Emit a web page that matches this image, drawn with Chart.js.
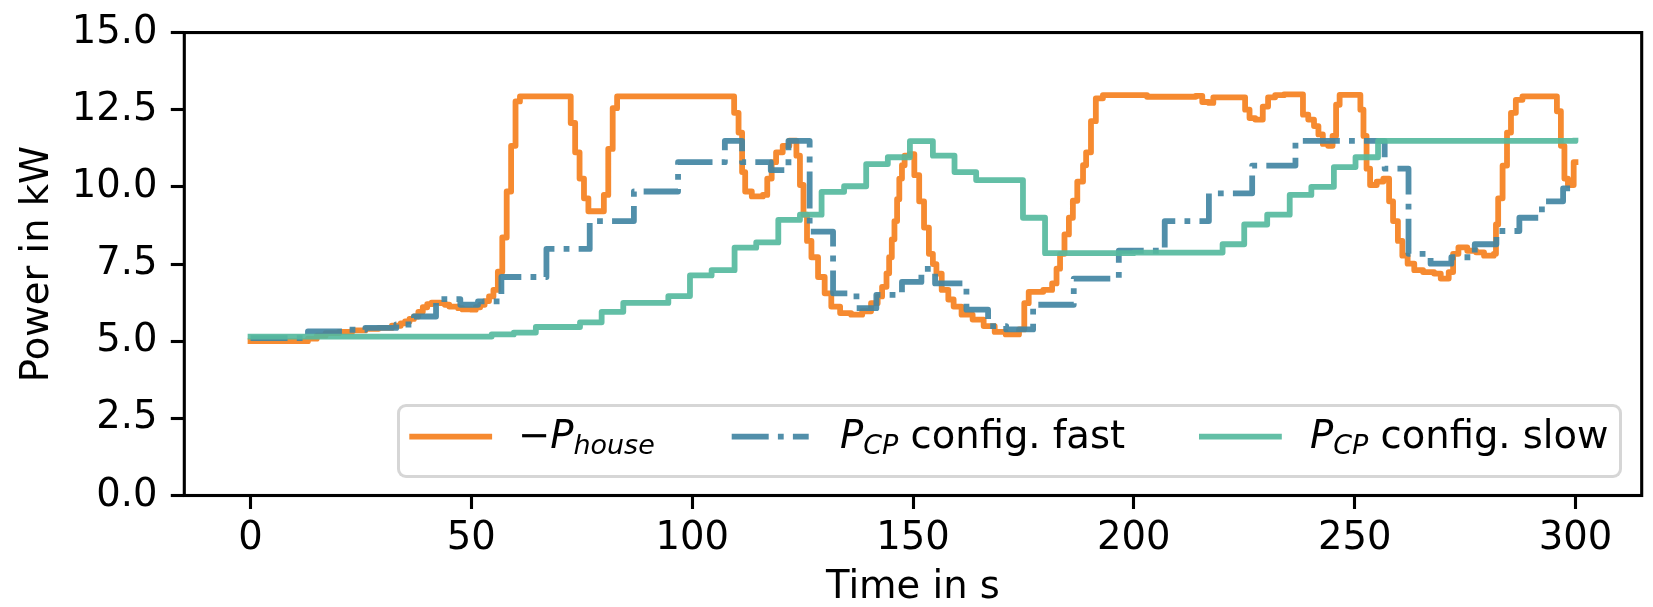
<!DOCTYPE html>
<html>
<head>
<meta charset="utf-8">
<script src="https://cdn.jsdelivr.net/npm/chart.js@4.4.1/dist/chart.umd.min.js"></script>
<style>
  html, body { margin: 0; padding: 0; background: #fff; }
  #wrap { position: relative; width: 1653px; height: 607px; overflow: hidden; }
  #c { position: absolute; left: 0; top: 0; }
  #legend { position: absolute; left: 0; top: 0; width: 1653px; height: 607px; pointer-events: none; }
  #legbox { position: absolute; left: 396.5px; top: 403.5px; width: 1225.9px; height: 74.8px; box-sizing: border-box;
            border: 3.1px solid rgba(204,204,204,0.8); border-radius: 9px; background: rgba(255,255,255,0.8); }
  .lt { position: absolute; top: 415.7px; font-family: 'DejaVu Sans', sans-serif; font-size: 38.5px; line-height: 38.5px;
        color: #000; white-space: nowrap; }
  .lt i { font-style: italic; }
  .lt sub { font-size: 0.7em; vertical-align: -6px; line-height: 0; font-style: italic; }
  #legsvg { position: absolute; left: 0; top: 0; }
</style>
</head>
<body>
<div id="wrap">
  <canvas id="c" width="1653" height="607"></canvas>
  <div id="legend">
    <div id="legbox"></div>
    <svg id="legsvg" width="1653" height="607">
      <line id="lg0" x1="412.2" y1="436.7" x2="489.2" y2="436.7" stroke-width="5.8" stroke-linecap="square"/>
      <line id="lg1" x1="731.7" y1="436.7" x2="808.7" y2="436.7" stroke-width="5.8" stroke-linecap="butt" stroke-dasharray="37 9.2 5.8 9.2"/>
      <line id="lg2" x1="1201.9" y1="436.7" x2="1278.9" y2="436.7" stroke-width="5.8" stroke-linecap="square"/>
    </svg>
    <div class="lt" style="left:518px">−<i>P</i><sub>house</sub></div>
    <div class="lt" style="left:840px"><i>P</i><sub>CP</sub> config. fast</div>
    <div class="lt" style="left:1310px"><i>P</i><sub>CP</sub> config. slow</div>
  </div>
</div>
<script>
// ---- data (time in s, power in kW) ----
const houseT = [0,12,13,15,17,20,23,26,29,32,34,35,36,37,38,39,40,41,43,44,45,47,48,50,51,52,53,54,55,56,57,58,59,60,61,
  72.5,73.5,74.5,75.5,76.5,80,81,82,83,
  109.5,110.5,111.3,112,113.5,116,117,118,119,120.5,122,123.6,124.4,125.2,126,127,128.5,130,131.5,133.5,136,138.5,140.5,
  142,143,144,144.6,145.2,145.8,146.4,146.9,147.5,148.1,149.2,150.3,151.4,152.5,153.6,154.5,155.3,156.5,158,159.2,161,
  163.5,166,168.5,171,174,175.2,176.2,179.5,181.5,182.5,183.3,184.3,185.3,186.2,187.2,188.5,189.2,190.3,191.4,193,
  203,214,215.5,217,218,225.2,226.2,227.5,229.2,230.4,232,234,238.3,239.5,240.8,241.8,242.8,244,245,245.8,246.6,
  251.3,252,252.7,253.5,255,256.5,257.8,258.7,259.8,260.8,262,263.5,265.5,268,269.5,271.3,272.3,273.5,275.5,277.5,
  279.3,281.5,282,282.5,283.5,284.5,285.4,286.5,288,295.8,296.7,297.5,298.3,299.6,300];
const houseV = [5.00,5.00,5.08,5.18,5.26,5.30,5.35,5.40,5.43,5.50,5.58,5.64,5.72,5.80,5.95,6.10,6.20,6.25,6.23,6.18,6.12,6.07,6.03,6.02,6.10,6.18,6.30,6.45,6.66,7.25,8.36,9.85,11.33,12.77,12.93,
  12.07,11.12,10.27,9.63,9.21,9.74,11.23,12.55,12.93,
  12.40,11.76,10.48,9.85,9.69,9.74,10.27,10.80,11.12,11.33,11.50,11.01,10.06,9.10,8.25,7.72,7.08,6.55,6.12,5.91,5.86,5.97,6.23,
  6.45,6.76,7.20,7.72,8.30,8.89,9.60,10.27,10.70,11.01,11.06,10.38,9.53,8.68,7.83,7.50,7.19,6.66,6.35,6.12,5.86,
  5.70,5.49,5.30,5.22,5.38,6.23,6.60,6.66,6.87,7.35,7.83,8.46,9.00,9.55,10.17,10.70,11.12,12.13,12.87,12.97,
  12.92,12.95,12.75,12.72,12.90,12.50,12.23,12.18,12.60,12.90,12.97,13.00,12.34,12.18,11.97,11.70,11.39,11.33,11.65,12.66,12.98,
  12.50,11.65,10.59,10.06,10.17,10.27,9.53,8.89,8.25,7.77,7.51,7.30,7.24,7.19,7.03,7.24,7.83,8.04,7.93,7.88,
  7.77,7.83,8.78,9.63,10.69,11.76,12.40,12.82,12.93,12.45,11.33,10.27,10.06,10.80,10.80];

const fastT = [0,13,21.5,26,33,37,42,47.5,51.5,56.8,67,76.8,86.8,96.8,107.4,111.3,117.8,121.8,126.6,131.9,137.2,141.7,
  147.5,151.9,155,162.1,167,171.1,177.2,186.4,196.6,207,217,226.8,236.6,256.8,262.2,267.2,271.9,277.2,282.1,287.3,292.4,297.2,300];
const fastV = [5.10,5.32,5.37,5.43,5.54,5.80,6.36,6.18,6.29,7.08,7.99,8.89,9.85,10.80,11.49,10.80,10.54,11.49,8.55,6.55,6.07,6.50,
  6.92,7.34,6.87,6.02,5.49,5.38,6.18,7.03,7.93,8.89,9.79,10.69,11.49,10.59,7.83,7.51,7.72,8.14,8.57,9.00,9.53,9.95,9.95];

const slowT = [0,54.6,59.6,64.6,74.6,79.5,84.4,94.6,99.5,104.4,109.6,114.5,119.5,124.4,129.3,134.4,139.4,144.3,149.3,154.5,
  159.4,164.3,174.9,179.9,200,220.1,225,230.2,235.3,240.2,245.3,250.2,255.3,300];
const slowV = [5.15,5.22,5.28,5.46,5.61,5.95,6.24,6.46,7.13,7.30,8.03,8.20,8.93,9.10,9.84,10.02,10.74,10.96,11.48,11.01,
  10.48,10.22,9.00,7.85,7.87,8.14,8.78,9.10,9.74,10.00,10.64,10.96,11.49,11.50];

const timeTicks = [0, 50, 100, 150, 200, 250, 300];
const powerTicks = [0, 2.5, 5, 7.5, 10, 12.5, 15];

const seriesLabels = ['−P_house', 'P_CP config. fast', 'P_CP config. slow'];
const seriesColors = ['rgba(245,128,30,0.92)', 'rgba(66,134,163,0.92)', 'rgba(86,186,158,0.92)'];

// ---- chart ----
const FONT = 'DejaVu Sans';
const toPts = (ts, vs) => ts.map((t, i) => ({ x: t, y: vs[i] }));

['lg0', 'lg1', 'lg2'].forEach((id, i) => document.getElementById(id).setAttribute('stroke', seriesColors[i]));

const framePlugin = {
  id: 'frame',
  afterDraw(chart) {
    const { ctx, chartArea: a } = chart;
    ctx.save();
    ctx.strokeStyle = '#000';
    ctx.lineWidth = 3.1;
    ctx.strokeRect(a.left, a.top, a.right - a.left, a.bottom - a.top);
    ctx.restore();
  }
};

const lineBase = { stepped: true, pointRadius: 0, borderWidth: 5.8, fill: false, borderJoinStyle: 'round' };

new Chart(document.getElementById('c'), {
  type: 'line',
  data: {
    datasets: [
      Object.assign({}, lineBase, { label: seriesLabels[0], data: toPts(houseT, houseV), borderColor: seriesColors[0], borderCapStyle: 'square', order: 3 }),
      Object.assign({}, lineBase, { label: seriesLabels[1], data: toPts(fastT, fastV), borderColor: seriesColors[1], borderCapStyle: 'butt', borderDash: [37, 9.2, 5.8, 9.2], order: 2 }),
      Object.assign({}, lineBase, { label: seriesLabels[2], data: toPts(slowT, slowV), borderColor: seriesColors[2], borderCapStyle: 'square', order: 1 })
    ]
  },
  options: {
    responsive: false,
    animation: false,
    devicePixelRatio: 1,
    layout: { padding: { left: 0, right: 11.3, top: 25, bottom: 0 } },
    plugins: { legend: { display: false }, tooltip: { enabled: false } },
    scales: {
      x: {
        type: 'linear', min: -15, max: 315,
        afterBuildTicks: s => { s.ticks = timeTicks.map(v => ({ value: v })); },
        afterFit: s => { s.height = 111.5; },
        ticks: { font: { family: FONT, size: 38.5, lineHeight: 1 }, color: '#000', padding: 11, maxRotation: 0, autoSkip: false,
                 callback: v => String(v) },
        grid: { display: true, drawOnChartArea: false, drawTicks: true, tickLength: 13.5, tickWidth: 3.1, tickColor: '#000' },
        border: { display: false },
        title: { display: true, text: 'Time in s', color: '#000', font: { family: FONT, size: 38.5, lineHeight: 1 }, padding: { top: 0, bottom: 0 } }
      },
      y: {
        type: 'linear', min: 0, max: 15,
        afterBuildTicks: s => { s.ticks = powerTicks.map(v => ({ value: v })); },
        afterFit: s => { s.width = 184.3; },
        ticks: { font: { family: FONT, size: 38.5, lineHeight: 1 }, color: '#000', padding: 13.3, autoSkip: false,
                 callback: v => v.toFixed(1) },
        grid: { display: true, drawOnChartArea: false, drawTicks: true, tickLength: 13.5, tickWidth: 3.1, tickColor: '#000' },
        border: { display: false },
        title: { display: true, text: 'Power in kW', color: '#000', font: { family: FONT, size: 38.5, lineHeight: 1 }, padding: { top: 19, bottom: 0 } }
      }
    }
  },
  plugins: [framePlugin]
});
</script>
</body>
</html>
